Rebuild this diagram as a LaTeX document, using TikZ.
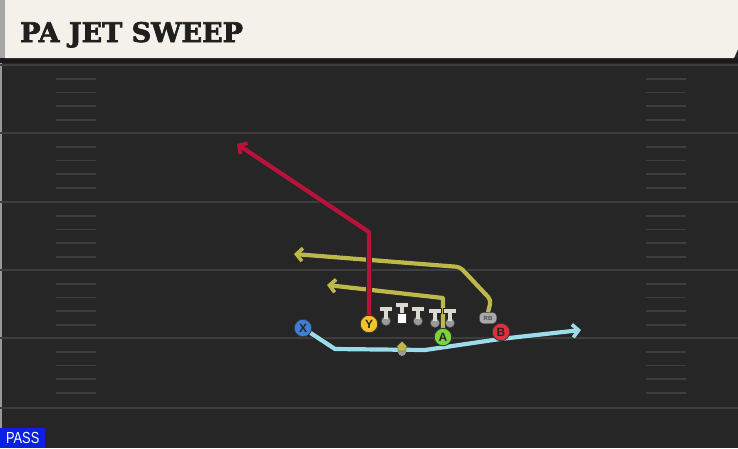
\documentclass[tikz,border=0pt]{standalone}
\usepackage{fontspec}
\usetikzlibrary{arrows.meta}
\newfontfamily\titlefont[FakeBold=2.5]{DejaVu Serif}
\newfontfamily\labelfont{Liberation Sans}
\definecolor{fieldbg}{HTML}{262626}
\definecolor{yardln}{HTML}{3E3E3E}
\definecolor{banner}{HTML}{F4F1EA}
\definecolor{redroute}{HTML}{B8123A}
\definecolor{yelroute}{HTML}{BDB84C}
\definecolor{bluroute}{HTML}{9BDCEB}
\definecolor{xblue}{HTML}{3F7FD8}
\definecolor{yyel}{HTML}{F2C42A}
\definecolor{agreen}{HTML}{7CD23A}
\definecolor{bred}{HTML}{DD3040}
\definecolor{passblue}{HTML}{0A22E0}
\definecolor{linegray}{HTML}{DCD9D2}
\definecolor{dotgray}{HTML}{9A9A9A}
\begin{document}
\begin{tikzpicture}[x=1pt,y=-1pt,
  yard/.style={draw=yardln,line width=2.4pt},
  hashm/.style={draw=yardln,line width=1.8pt},
  route/.style={line width=4.2pt,line join=round,draw=#1,
    preaction={draw=black!85,line width=5.8pt}},
  routetip/.style={-{Straight Barb[length=6pt,width=13pt,line width=3.6pt]}},
  player/.style={circle,draw=black!80,line width=0.8pt,fill=#1,minimum size=17.5pt,inner sep=0pt,
    font=\labelfont\bfseries\fontsize{12}{12}\selectfont,text=black!85},
  rbbox/.style={draw=black!80,fill=dotgray!85,rounded corners=3.5pt,minimum width=17pt,minimum height=11pt,inner sep=0pt,
    font=\labelfont\bfseries\fontsize{6}{6}\selectfont,text=black!70},
]
\useasboundingbox (0,0) rectangle (738,448);
% field
\fill[fieldbg] (0,0) rectangle (738,448);
\fill[black!40] (0,60) rectangle (2,448);
% yard lines
\foreach \yy in {65,133,202,270,338,408} {
  \draw[yard] (0,\yy) -- (738,\yy);
}
% hash marks
\foreach \yy in {65,133,202,270,338} {
  \foreach \k in {1,2,3,4} {
    \draw[hashm] (56,{\yy+13.7*\k}) -- (96,{\yy+13.7*\k});
    \draw[hashm] (646,{\yy+13.7*\k}) -- (686,{\yy+13.7*\k});
  }
}
% banner
\fill[black!90] (0,58) rectangle (738,63);
\fill[black!35] (0,0) rectangle (5,58);
\fill[banner] (5,0) -- (738,0) -- (738,49) -- (734,58) -- (5,58) -- cycle;
\node[anchor=base west,inner sep=0pt,font=\titlefont\bfseries\fontsize{27}{27}\selectfont,text=black!88] (title) at (20,42) {PA JET SWEEP};
% pass label
\node[anchor=south west,fill=passblue,minimum width=45pt,minimum height=20pt,inner sep=0pt,
  font=\labelfont\fontsize{16}{16}\selectfont,text=white] (pass) at (0,448) {\scalebox{0.8}[1]{PASS}};

% players (named, positions)
\node[player=xblue] (X) at (303,328) {X};
\node[player=yyel] (Y) at (369,324) {Y};
\node[player=agreen] (A) at (443,337) {A};
\node[player=bred] (B) at (501,332) {B};
\node[rbbox] (RB) at (488,318) {RB};

% route coordinates
\coordinate (yc) at (369,232);
\coordinate (ytip) at (237,144);
\coordinate (ac) at (443,298);
\coordinate (atip) at (327,285);
\coordinate (rb1) at (491,300);
\coordinate (rb2) at (460,267);
\coordinate (rbtip) at (294,254);
\coordinate (x1) at (335,349);
\coordinate (x2) at (425,350);
\coordinate (x3) at (500,339);
\coordinate (xtip) at (581,330);

% routes
\draw[route=bluroute,routetip] (X.center) -- (x1) -- (x2) -- (x3) -- (xtip);
\draw[route=yelroute,routetip,rounded corners=4pt] (RB.north) -- (rb1) -- (rb2) -- (rbtip);
\draw[route=yelroute,routetip] (A.center) -- (ac) -- (atip);
\draw[route=redroute,routetip] (Y.center) -- (yc) -- (ytip);

% players redrawn on top of the routes
\node[player=xblue] at (X) {X};
\node[player=yyel] at (Y) {Y};
\node[player=agreen] at (A) {A};
\node[player=bred] at (B) {B};
\node[rbbox] at (RB) {RB};

% offensive line
\foreach \xx/\yt in {386/307,418/307,435/309,450/309} {
  \fill[black!85] (\xx-7,\yt-1) rectangle (\xx+7,\yt+5);
  \fill[dotgray,draw=black!70,line width=0.4pt] (\xx,\yt+14) circle (4.6pt);
  \fill[linegray] (\xx-6,\yt) rectangle (\xx+6,\yt+4);
  \fill[linegray] (\xx-2,\yt+4) rectangle (\xx+2,\yt+12);
}
\fill[linegray] (396,303) rectangle (408,307);
\fill[linegray] (400,307) rectangle (404,314);
\fill[white,draw=black!80,line width=0.5pt] (397.5,313.5) rectangle (406.5,323.5);
% QB marker
\fill[dotgray] (402,352) circle (4pt);
\fill[yelroute,draw=black!80,line width=0.4pt] (402,341) -- (408,347) -- (406,347) -- (406,351) -- (398,351) -- (398,347) -- (396,347) -- cycle;
\end{tikzpicture}
\end{document}
